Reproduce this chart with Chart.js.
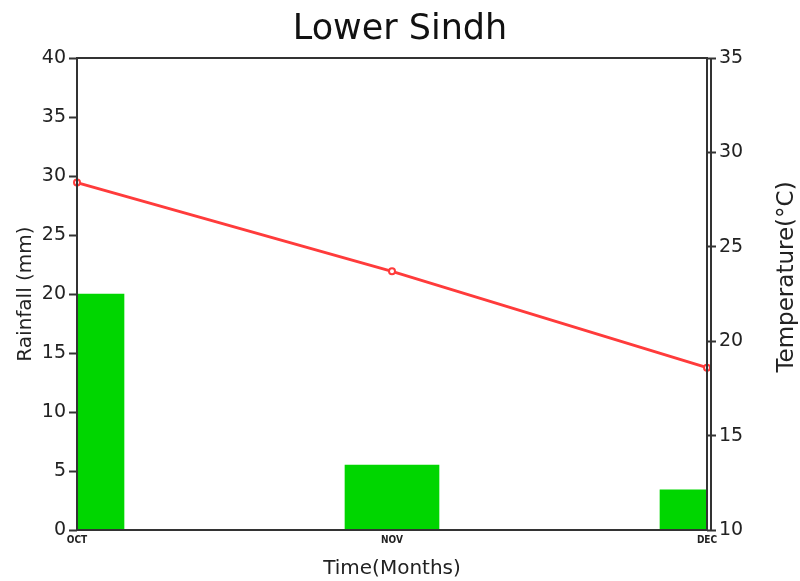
<!DOCTYPE html>
<html>
<head>
<meta charset="utf-8">
<script src="https://cdn.jsdelivr.net/npm/chart.js@4"></script>
<style>
  html, body { margin: 0; padding: 0; background: #fff; }
  #wrap { width: 800px; height: 581px; }
</style>
</head>
<body>
<div id="wrap"><canvas id="myChart" width="800" height="581"></canvas></div>
<script>
// data
var months = ['OCT', 'NOV', 'DEC'];
var rainfall = [20, 5.5, 3.4];
var temperature = [28.4, 23.7, 18.6];

var axisFont = "'DejaVu Sans', sans-serif";

// draws the box around the plot, the second line of the right axis
// and the right axis title (reading bottom to top like the left one)
var framePlugin = {
    id: 'frame',
    afterDatasetsDraw: function(chart) {
        var a = chart.chartArea;
        var ctx = chart.ctx;
        ctx.save();
        ctx.strokeStyle = '#333';
        ctx.lineWidth = 2;
        ctx.strokeRect(a.left, a.top, a.right - a.left, a.bottom - a.top);
        ctx.beginPath();
        ctx.moveTo(a.right + 4, a.top);
        ctx.lineTo(a.right + 4, a.bottom);
        ctx.stroke();

        ctx.translate(787, 277);
        ctx.rotate(-Math.PI / 2);
        ctx.fillStyle = '#222';
        ctx.font = '23px ' + axisFont;
        ctx.textAlign = 'center';
        ctx.textBaseline = 'middle';
        ctx.fillText('Temperature(°C)', 0, 0);
        ctx.restore();
    }
};

var canvas = document.getElementById('myChart');

var chart = new Chart(canvas, {
    type: 'bar',
    data: {
        labels: months,
        datasets: [{
            type: 'line',
            label: 'Temperature',
            data: temperature,
            yAxisID: 'yT',
            borderColor: '#ff3b3b',
            borderWidth: 3,
            pointRadius: 3,
            pointBorderWidth: 2,
            pointBackgroundColor: '#fff',
            pointBorderColor: '#ff3b3b',
            tension: 0,
            clip: false,
            order: 0
        }, {
            label: 'Rainfall',
            data: rainfall,
            yAxisID: 'yR',
            backgroundColor: '#00d600',
            barThickness: 94,
            order: 1
        }]
    },
    options: {
        responsive: false,
        animation: false,
        layout: { padding: 0 },
        plugins: {
            legend: { display: false },
            tooltip: { enabled: false },
            title: {
                display: true,
                text: 'Lower Sindh',
                color: '#111',
                font: { family: axisFont, size: 35, weight: 'normal' },
                padding: { top: 9, bottom: 7 }
            }
        },
        scales: {
            x: {
                offset: false,
                grid: { display: false, offset: false, drawTicks: false },
                border: { display: false },
                ticks: {
                    color: '#222',
                    padding: 4,
                    maxRotation: 0,
                    font: { family: "'DejaVu Sans Condensed', sans-serif", size: 10, weight: 'bold' }
                },
                title: {
                    display: true,
                    text: 'Time(Months)',
                    color: '#222',
                    font: { family: axisFont, size: 20 },
                    padding: { top: 2, bottom: 0 }
                },
                afterFit: function(scale) { scale.height = 51; }
            },
            yR: {
                position: 'left',
                min: 0,
                max: 40,
                ticks: {
                    stepSize: 5,
                    color: '#222',
                    padding: 3,
                    font: { family: axisFont, size: 19 }
                },
                grid: { drawOnChartArea: false, tickLength: 8, color: '#333', tickWidth: 2 },
                border: { display: false },
                title: {
                    display: true,
                    text: 'Rainfall (mm)',
                    color: '#222',
                    font: { family: axisFont, size: 20 },
                    padding: { top: 14, bottom: 4 }
                },
                afterFit: function(scale) { scale.width = 77; }
            },
            yT: {
                position: 'right',
                min: 10,
                max: 35,
                ticks: {
                    stepSize: 5,
                    color: '#222',
                    padding: 3,
                    font: { family: axisFont, size: 19 }
                },
                grid: { drawOnChartArea: false, tickLength: 9, color: '#333', tickWidth: 2 },
                border: { display: false },
                afterFit: function(scale) { scale.width = 93; }
            }
        }
    },
    plugins: [framePlugin]
});
</script>
</body>
</html>
